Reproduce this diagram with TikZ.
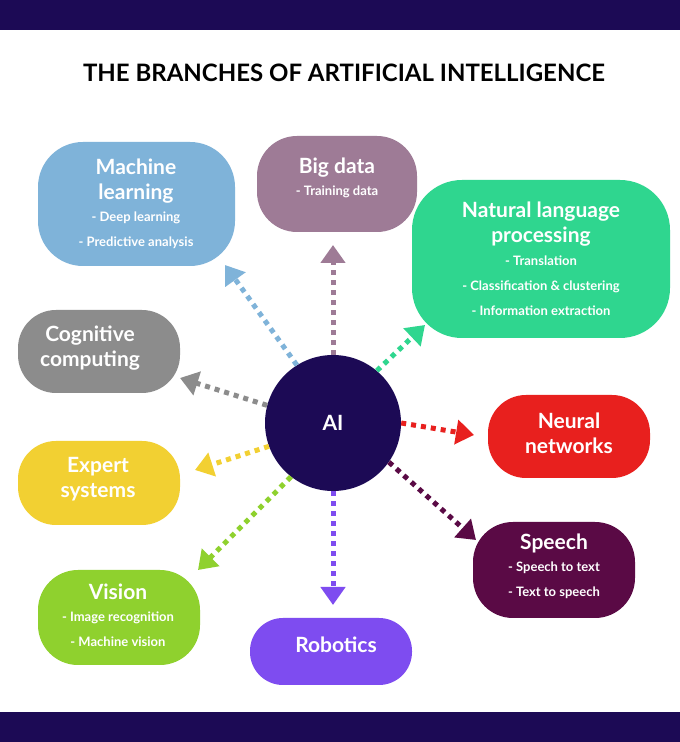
\documentclass[tikz,border=0pt]{standalone}
\usepackage{fontspec}
\setmainfont{Lato}
\usetikzlibrary{arrows.meta}
\definecolor{navy}{HTML}{1C0A55}
\definecolor{mlc}{HTML}{7FB3D9}
\definecolor{bdc}{HTML}{9E7B96}
\definecolor{nlpc}{HTML}{2FD68F}
\definecolor{ccc}{HTML}{8C8C8C}
\definecolor{nnc}{HTML}{E8201E}
\definecolor{esc}{HTML}{F2D032}
\definecolor{spc}{HTML}{5A0A45}
\definecolor{vic}{HTML}{8FD12E}
\definecolor{roc}{HTML}{7E4CF0}
\newcommand{\bigt}{\bfseries\fontsize{21}{25}\selectfont}
\newcommand{\smt}{\bfseries\fontsize{13}{24}\selectfont}
\tikzset{
 lbl/.style={text=white,align=center,font=\bfseries\fontsize{21}{25}\selectfont},
 branch/.style={line width=5pt,dash pattern=on 5pt off 5pt,-{Triangle[width=24pt,length=18pt]}},
}
\begin{document}
\begin{tikzpicture}[x=1pt,y=1pt]
\useasboundingbox (0,0) rectangle (680,742);
\fill[white] (0,0) rectangle (680,742);
\fill[navy] (0,712) rectangle (680,742);
\fill[navy] (0,0) rectangle (680,30);
\node[font=\bfseries\fontsize{24}{28}\selectfont] (title) at (344,669) {THE BRANCHES OF ARTIFICIAL INTELLIGENCE};
% boxes
\fill[mlc,rounded corners=45pt] (38,600) rectangle (235,476);
\node[lbl] (ml) at (136,538) {Machine\\learning\\[-3pt]\smt - Deep learning\\\smt - Predictive analysis};
\fill[bdc,rounded corners=40pt] (257,606) rectangle (417,510);
\node[lbl] (bd) at (337,564) {Big data\\[-3pt]\smt - Training data};
\fill[nlpc,rounded corners=50pt] (412,562) rectangle (670,404);
\node[lbl] (nlp) at (541,483) {Natural language\\processing\\[-2pt]\smt - Translation\\\smt - Classification \& clustering\\\smt - Information extraction};
\fill[ccc,rounded corners=38pt] (18,432) rectangle (180,349);
\node[lbl] (cc) at (90,394) {Cognitive\\computing};
\fill[nnc,rounded corners=38pt] (488,347) rectangle (650,264);
\node[lbl] (nn) at (569,309) {Neural\\networks};
\fill[esc,rounded corners=38pt] (18,301) rectangle (180,217);
\node[lbl] (es) at (98,263) {Expert\\systems};
\fill[spc,rounded corners=40pt] (473,220) rectangle (635,124);
\node[lbl] (sp) at (554,176) {Speech\\[-3pt]\smt - Speech to text\\\smt - Text to speech};
\fill[vic,rounded corners=40pt] (38,172) rectangle (200,77);
\node[lbl] (vi) at (118,127) {Vision\\[-3pt]\smt - Image recognition\\\smt - Machine vision};
\fill[roc,rounded corners=33pt] (250,124) rectangle (412,57);
\node[lbl] (ro) at (336,97) {Robotics};
% center
\node[circle,fill=navy,minimum size=136pt,text=white,font=\bfseries\fontsize{21}{25}\selectfont] (ai) at (333,319) {AI};
% arrow ends
\coordinate (tml) at (225,477);
\coordinate (tbd) at (333,497);
\coordinate (tnlp) at (425,417);
\coordinate (tcc) at (180,364);
\coordinate (tnn) at (474,307);
\coordinate (tes) at (195,272);
\coordinate (tsp) at (476,202);
\coordinate (tvi) at (198,172);
\coordinate (tro) at (333,137);
\draw[branch,mlc] (ai.122) -- (tml);
\draw[branch,bdc] (ai.north) -- (tbd);
\draw[branch,nlpc] (ai.50) -- (tnlp);
\draw[branch,ccc] (ai.165) -- (tcc);
\draw[branch,nnc] (ai.east) -- (tnn);
\draw[branch,esc] (ai.200) -- (tes);
\draw[branch,spc] (ai.-35) -- (tsp);
\draw[branch,vic] (ai.-128) -- (tvi);
\draw[branch,roc] (ai.south) -- (tro);
\end{tikzpicture}
\end{document}
